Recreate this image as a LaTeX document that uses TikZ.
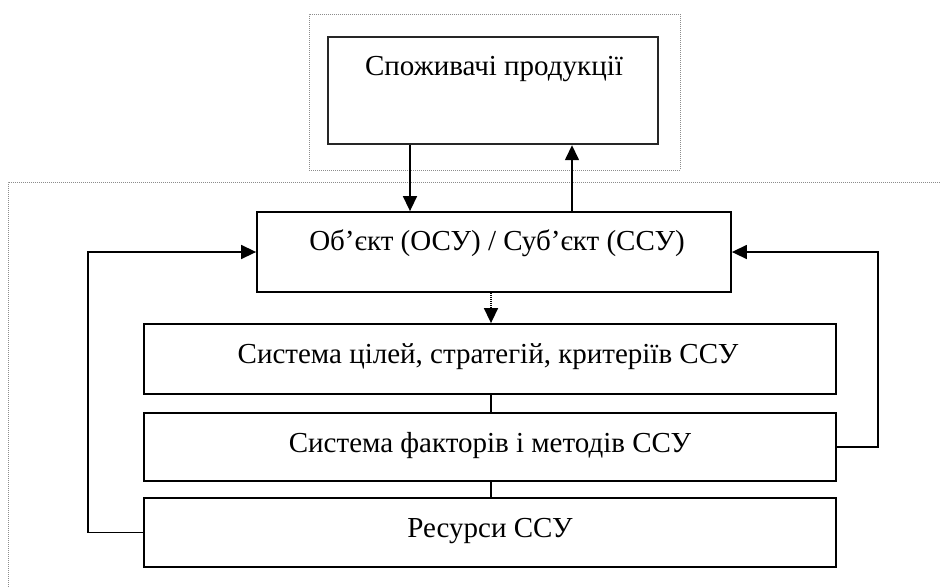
\documentclass[tikz,border=0pt]{standalone}
\usepackage{fontspec}
\setmainfont{Liberation Serif}
\usetikzlibrary{arrows.meta}
\begin{document}
\begin{tikzpicture}[x=1pt,y=-1pt,
  box/.style={draw=black,line width=1.8pt,minimum width=#1,inner sep=0pt},
  lbl/.style={anchor=base,inner sep=0pt,font=\fontsize{29}{33}\selectfont},
  conn/.style={draw=black,line width=1.5pt},
  arr/.style={conn,-{Triangle[length=15pt,width=14pt]}},
  dotbox/.style={draw=black!45,line width=0.8pt,dash pattern=on 0.8pt off 1.2pt}]
\useasboundingbox (0,0) rectangle (940,587);
% dotted frames
\node[dotbox,minimum width=371pt,minimum height=156pt,inner sep=0pt] (outer) at (494.5,92) {};
\coordinate (fr) at (940,182);
\coordinate (fc) at (8,182);
\coordinate (fb) at (8,587);
\draw[dotbox] (fr) -- (fc) -- (fb);
% boxes
\node[box=330pt,minimum height=107pt,line width=2.4pt,draw=black!85] (cons) at (493,90.5) {};
\node[box=474pt,minimum height=80pt] (obj) at (494,252) {};
\node[box=692pt,minimum height=70pt] (goal) at (490,359) {};
\node[box=692pt,minimum height=68pt] (fact) at (490,447) {};
\node[box=692pt,minimum height=69pt] (res) at (490,532.5) {};
% texts
\node[lbl] (tcons) at (494,75) {Споживачі продукції};
\node[lbl] (tobj) at (497,250) {Об’єкт (ОСУ) / Суб’єкт (ССУ)};
\node[lbl] (tgoal) at (488,363) {Система цілей, стратегій, критеріїв ССУ};
\node[lbl] (tfact) at (490,452) {Система факторів і методів ССУ};
\node[lbl] (tres) at (490,537) {Ресурси ССУ};
% connectors
\draw[arr] (cons.south -| 410,0) -- (obj.north -| 410,0);
\draw[arr] (obj.north -| 572,0) -- (cons.south -| 572,0);
\draw[conn,dash pattern=on 1pt off 1pt,-{Triangle[length=15pt,width=14pt]}] (obj.south -| 491,0) -- (goal.north -| 491,0);
\draw[conn] (goal.south -| 491,0) -- (fact.north -| 491,0);
\draw[conn] (fact.south -| 491,0) -- (res.north -| 491,0);
\coordinate (lb) at (88,532.5);
\coordinate (lt) at (88,252);
\draw[arr] (res.west) -- (lb) -- (lt) -- (obj.west);
\coordinate (rb) at (878,447);
\coordinate (rt) at (878,252);
\draw[arr] (fact.east) -- (rb) -- (rt) -- (obj.east);
\end{tikzpicture}
\end{document}
